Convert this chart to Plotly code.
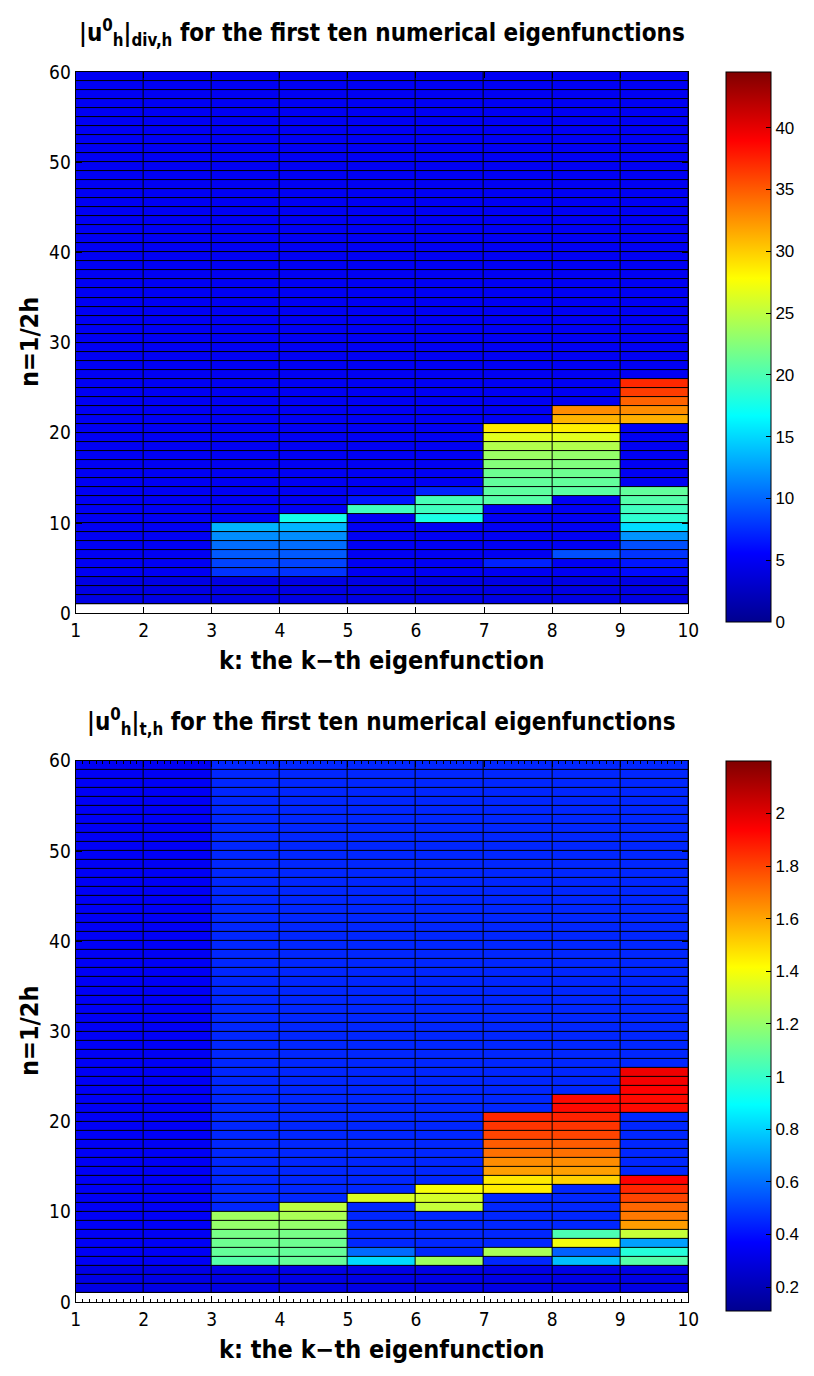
import plotly.graph_objects as go

# ---------------- data ----------------
k_edges = [1, 2, 3, 4, 5, 6, 7, 8, 9, 10]          # column edges (k)
n_edges = [1, 2, 3, 4, 5, 6, 7, 8, 9, 10, 11, 12, 13, 14, 15, 16, 17, 18, 19, 20,
           21, 22, 23, 24, 25, 26, 27, 28, 29, 30, 31, 32, 33, 34, 35, 36, 37, 38, 39, 40,
           41, 42, 43, 44, 45, 46, 47, 48, 49, 50, 51, 52, 53, 54, 55, 56, 57, 58, 59, 60]

# |u_h^0|_{div,h}: one list per column k (rows n = 1..59)
div_k1 = [4.2, 4.2, 4.2, 5.0, 5.0, 5.0, 5.0, 5.0, 5.0, 5.0,
          5.0, 5.0, 5.0, 5.0, 5.0, 5.0, 5.0, 5.0, 5.0, 5.0,
          5.0, 5.0, 5.0, 5.0, 5.0, 5.0, 5.0, 5.0, 5.0, 5.0,
          5.0, 5.0, 5.0, 5.0, 5.0, 5.0, 5.0, 5.0, 5.0, 5.0,
          5.0, 5.0, 5.0, 5.0, 5.0, 5.0, 5.0, 5.0, 5.0, 5.0,
          5.0, 5.0, 5.0, 5.0, 5.0, 5.0, 5.0, 5.0, 5.0]
div_k2 = [4.2, 4.2, 4.2, 5.0, 5.0, 5.0, 5.0, 5.0, 5.0, 5.0,
          5.0, 5.0, 5.0, 5.0, 5.0, 5.0, 5.0, 5.0, 5.0, 5.0,
          5.0, 5.0, 5.0, 5.0, 5.0, 5.0, 5.0, 5.0, 5.0, 5.0,
          5.0, 5.0, 5.0, 5.0, 5.0, 5.0, 5.0, 5.0, 5.0, 5.0,
          5.0, 5.0, 5.0, 5.0, 5.0, 5.0, 5.0, 5.0, 5.0, 5.0,
          5.0, 5.0, 5.0, 5.0, 5.0, 5.0, 5.0, 5.0, 5.0]
div_k3 = [4.2, 4.2, 4.2, 7.8, 8.5, 9.5, 10.3, 11.7, 13.4, 5.0,
          5.0, 5.0, 5.0, 5.0, 5.0, 5.0, 5.0, 5.0, 5.0, 5.0,
          5.0, 5.0, 5.0, 5.0, 5.0, 5.0, 5.0, 5.0, 5.0, 5.0,
          5.0, 5.0, 5.0, 5.0, 5.0, 5.0, 5.0, 5.0, 5.0, 5.0,
          5.0, 5.0, 5.0, 5.0, 5.0, 5.0, 5.0, 5.0, 5.0, 5.0,
          5.0, 5.0, 5.0, 5.0, 5.0, 5.0, 5.0, 5.0, 5.0]
div_k4 = [4.2, 4.2, 4.2, 7.8, 8.5, 9.5, 10.3, 11.7, 13.4, 17.5,
          5.0, 5.0, 5.0, 5.0, 5.0, 5.0, 5.0, 5.0, 5.0, 5.0,
          5.0, 5.0, 5.0, 5.0, 5.0, 5.0, 5.0, 5.0, 5.0, 5.0,
          5.0, 5.0, 5.0, 5.0, 5.0, 5.0, 5.0, 5.0, 5.0, 5.0,
          5.0, 5.0, 5.0, 5.0, 5.0, 5.0, 5.0, 5.0, 5.0, 5.0,
          5.0, 5.0, 5.0, 5.0, 5.0, 5.0, 5.0, 5.0, 5.0]
div_k5 = [4.2, 4.2, 4.2, 5.0, 5.0, 5.0, 5.0, 5.0, 5.0, 5.0,
          19.5, 6.5, 5.0, 5.0, 5.0, 5.0, 5.0, 5.0, 5.0, 5.0,
          5.0, 5.0, 5.0, 5.0, 5.0, 5.0, 5.0, 5.0, 5.0, 5.0,
          5.0, 5.0, 5.0, 5.0, 5.0, 5.0, 5.0, 5.0, 5.0, 5.0,
          5.0, 5.0, 5.0, 5.0, 5.0, 5.0, 5.0, 5.0, 5.0, 5.0,
          5.0, 5.0, 5.0, 5.0, 5.0, 5.0, 5.0, 5.0, 5.0]
div_k6 = [4.2, 4.2, 4.2, 5.0, 5.0, 5.0, 5.0, 5.0, 5.0, 17.8,
          19.5, 19.8, 7.0, 5.0, 5.0, 5.0, 5.0, 5.0, 5.0, 5.0,
          5.0, 5.0, 5.0, 5.0, 5.0, 5.0, 5.0, 5.0, 5.0, 5.0,
          5.0, 5.0, 5.0, 5.0, 5.0, 5.0, 5.0, 5.0, 5.0, 5.0,
          5.0, 5.0, 5.0, 5.0, 5.0, 5.0, 5.0, 5.0, 5.0, 5.0,
          5.0, 5.0, 5.0, 5.0, 5.0, 5.0, 5.0, 5.0, 5.0]
div_k7 = [4.2, 4.2, 4.2, 5.0, 7.0, 5.0, 5.0, 5.0, 5.0, 5.0,
          5.0, 20.5, 20.8, 21.0, 21.5, 22.5, 23.5, 24.5, 26.5, 28.7,
          5.0, 5.0, 5.0, 5.0, 5.0, 5.0, 5.0, 5.0, 5.0, 5.0,
          5.0, 5.0, 5.0, 5.0, 5.0, 5.0, 5.0, 5.0, 5.0, 5.0,
          5.0, 5.0, 5.0, 5.0, 5.0, 5.0, 5.0, 5.0, 5.0, 5.0,
          5.0, 5.0, 5.0, 5.0, 5.0, 5.0, 5.0, 5.0, 5.0]
div_k8 = [4.2, 4.2, 4.2, 5.0, 5.0, 9.0, 5.0, 5.0, 5.0, 5.0,
          5.0, 5.0, 20.7, 21.0, 21.5, 22.3, 23.2, 24.5, 26.5, 28.5,
          31.1, 32.8, 5.0, 5.0, 5.0, 5.0, 5.0, 5.0, 5.0, 5.0,
          5.0, 5.0, 5.0, 5.0, 5.0, 5.0, 5.0, 5.0, 5.0, 5.0,
          5.0, 5.0, 5.0, 5.0, 5.0, 5.0, 5.0, 5.0, 5.0, 5.0,
          5.0, 5.0, 5.0, 5.0, 5.0, 5.0, 5.0, 5.0, 5.0]
div_k9 = [4.2, 4.2, 4.2, 6.0, 6.5, 7.8, 9.0, 12.0, 15.2, 18.7,
          19.5, 20.4, 21.0, 5.0, 5.0, 5.0, 5.0, 5.0, 5.0, 5.0,
          31.3, 32.8, 34.6, 36.3, 37.2, 5.0, 5.0, 5.0, 5.0, 5.0,
          5.0, 5.0, 5.0, 5.0, 5.0, 5.0, 5.0, 5.0, 5.0, 5.0,
          5.0, 5.0, 5.0, 5.0, 5.0, 5.0, 5.0, 5.0, 5.0, 5.0,
          5.0, 5.0, 5.0, 5.0, 5.0, 5.0, 5.0, 5.0, 5.0]

# |u_h^0|_{t,h}: one list per column k (rows n = 1..59)
t_k1 = [0.31, 0.31, 0.31, 0.35, 0.35, 0.35, 0.35, 0.35, 0.35, 0.35,
        0.35, 0.35, 0.35, 0.35, 0.35, 0.35, 0.35, 0.35, 0.35, 0.35,
        0.35, 0.35, 0.35, 0.35, 0.35, 0.35, 0.35, 0.35, 0.35, 0.35,
        0.35, 0.35, 0.35, 0.35, 0.35, 0.35, 0.35, 0.35, 0.35, 0.35,
        0.35, 0.35, 0.35, 0.35, 0.35, 0.35, 0.35, 0.35, 0.35, 0.35,
        0.35, 0.35, 0.35, 0.35, 0.35, 0.35, 0.35, 0.35, 0.35]
t_k2 = [0.31, 0.31, 0.31, 0.35, 0.35, 0.35, 0.35, 0.35, 0.35, 0.35,
        0.35, 0.35, 0.35, 0.35, 0.35, 0.35, 0.35, 0.35, 0.35, 0.35,
        0.35, 0.35, 0.35, 0.35, 0.35, 0.35, 0.35, 0.35, 0.35, 0.35,
        0.35, 0.35, 0.35, 0.35, 0.35, 0.35, 0.35, 0.35, 0.35, 0.35,
        0.35, 0.35, 0.35, 0.35, 0.35, 0.35, 0.35, 0.35, 0.35, 0.35,
        0.35, 0.35, 0.35, 0.35, 0.35, 0.35, 0.35, 0.35, 0.35]
t_k3 = [0.31, 0.31, 0.31, 1.07, 1.10, 1.12, 1.14, 1.20, 1.22, 0.45,
        0.45, 0.45, 0.45, 0.45, 0.45, 0.45, 0.45, 0.45, 0.45, 0.45,
        0.45, 0.45, 0.45, 0.45, 0.45, 0.45, 0.45, 0.45, 0.45, 0.45,
        0.45, 0.45, 0.45, 0.45, 0.45, 0.45, 0.45, 0.45, 0.45, 0.45,
        0.45, 0.45, 0.45, 0.45, 0.45, 0.45, 0.45, 0.45, 0.45, 0.45,
        0.45, 0.45, 0.45, 0.45, 0.45, 0.45, 0.45, 0.45, 0.45]
t_k4 = [0.31, 0.31, 0.31, 1.10, 1.10, 1.12, 1.14, 1.20, 1.24, 1.28,
        0.45, 0.45, 0.45, 0.45, 0.45, 0.45, 0.45, 0.45, 0.45, 0.45,
        0.45, 0.45, 0.45, 0.45, 0.45, 0.45, 0.45, 0.45, 0.45, 0.45,
        0.45, 0.45, 0.45, 0.45, 0.45, 0.45, 0.45, 0.45, 0.45, 0.45,
        0.45, 0.45, 0.45, 0.45, 0.45, 0.45, 0.45, 0.45, 0.45, 0.45,
        0.45, 0.45, 0.45, 0.45, 0.45, 0.45, 0.45, 0.45, 0.45]
t_k5 = [0.31, 0.31, 0.31, 0.82, 0.59, 0.45, 0.45, 0.45, 0.45, 0.45,
        1.34, 0.45, 0.45, 0.45, 0.45, 0.45, 0.45, 0.45, 0.45, 0.45,
        0.45, 0.45, 0.45, 0.45, 0.45, 0.45, 0.45, 0.45, 0.45, 0.45,
        0.45, 0.45, 0.45, 0.45, 0.45, 0.45, 0.45, 0.45, 0.45, 0.45,
        0.45, 0.45, 0.45, 0.45, 0.45, 0.45, 0.45, 0.45, 0.45, 0.45,
        0.45, 0.45, 0.45, 0.45, 0.45, 0.45, 0.45, 0.45, 0.45]
t_k6 = [0.31, 0.31, 0.31, 1.22, 0.45, 0.45, 0.45, 0.45, 0.45, 1.30,
        1.33, 1.40, 0.45, 0.45, 0.45, 0.45, 0.45, 0.45, 0.45, 0.45,
        0.45, 0.45, 0.45, 0.45, 0.45, 0.45, 0.45, 0.45, 0.45, 0.45,
        0.45, 0.45, 0.45, 0.45, 0.45, 0.45, 0.45, 0.45, 0.45, 0.45,
        0.45, 0.45, 0.45, 0.45, 0.45, 0.45, 0.45, 0.45, 0.45, 0.45,
        0.45, 0.45, 0.45, 0.45, 0.45, 0.45, 0.45, 0.45, 0.45]
t_k7 = [0.31, 0.31, 0.31, 0.45, 1.24, 0.45, 0.45, 0.45, 0.45, 0.45,
        0.45, 1.45, 1.46, 1.61, 1.65, 1.71, 1.75, 1.80, 1.83, 1.86,
        0.45, 0.45, 0.45, 0.45, 0.45, 0.45, 0.45, 0.45, 0.45, 0.45,
        0.45, 0.45, 0.45, 0.45, 0.45, 0.45, 0.45, 0.45, 0.45, 0.45,
        0.45, 0.45, 0.45, 0.45, 0.45, 0.45, 0.45, 0.45, 0.45, 0.45,
        0.45, 0.45, 0.45, 0.45, 0.45, 0.45, 0.45, 0.45, 0.45]
t_k8 = [0.31, 0.31, 0.31, 0.76, 0.57, 1.39, 1.05, 0.45, 0.45, 0.45,
        0.45, 0.45, 1.51, 1.61, 1.65, 1.71, 1.75, 1.80, 1.83, 1.87,
        1.92, 1.92, 0.45, 0.45, 0.45, 0.45, 0.45, 0.45, 0.45, 0.45,
        0.45, 0.45, 0.45, 0.45, 0.45, 0.45, 0.45, 0.45, 0.45, 0.45,
        0.45, 0.45, 0.45, 0.45, 0.45, 0.45, 0.45, 0.45, 0.45, 0.45,
        0.45, 0.45, 0.45, 0.45, 0.45, 0.45, 0.45, 0.45, 0.45]
t_k9 = [0.31, 0.31, 0.31, 1.07, 0.97, 0.70, 1.30, 1.62, 1.69, 1.73,
        1.80, 1.86, 1.94, 0.45, 0.45, 0.45, 0.45, 0.45, 0.45, 0.45,
        1.92, 1.92, 1.94, 1.96, 1.97, 0.45, 0.45, 0.45, 0.45, 0.45,
        0.45, 0.45, 0.45, 0.45, 0.45, 0.45, 0.45, 0.45, 0.45, 0.45,
        0.45, 0.45, 0.45, 0.45, 0.45, 0.45, 0.45, 0.45, 0.45, 0.45,
        0.45, 0.45, 0.45, 0.45, 0.45, 0.45, 0.45, 0.45, 0.45]

x_ticks = [1, 2, 3, 4, 5, 6, 7, 8, 9, 10]
y_ticks = [0, 10, 20, 30, 40, 50, 60]
cb1_ticks = [0, 5, 10, 15, 20, 25, 30, 35, 40]
cb2_ticks = [0.2, 0.4, 0.6, 0.8, 1.0, 1.2, 1.4, 1.6, 1.8, 2.0]
cb2_text = ["0.2", "0.4", "0.6", "0.8", "1", "1.2", "1.4", "1.6", "1.8", "2"]
c1_range = [0, 44.5]
c2_range = [0.11, 2.2]

# ---------------- build ----------------
div_cols = [div_k1, div_k2, div_k3, div_k4, div_k5, div_k6, div_k7, div_k8, div_k9]
t_cols = [t_k1, t_k2, t_k3, t_k4, t_k5, t_k6, t_k7, t_k8, t_k9]
z_div = [list(r) for r in zip(*div_cols)]
z_t = [list(r) for r in zip(*t_cols)]

W, H = 814, 1376
NARROW = "Liberation Sans Narrow, Arial Narrow, DejaVu Sans Condensed, sans-serif"
REG = "Liberation Sans, Arial, Helvetica, sans-serif"

jet = [[0.0, "#00008f"], [0.125, "#0000ff"], [0.375, "#00ffff"],
       [0.625, "#ffff00"], [0.875, "#ff0000"], [1.0, "#800000"]]

px_x0, px_x1 = 72, 697
panels = [(62, 612), (762, 1312)]


def ydom(top, bot):
    return [(H - bot) / H, (H - top) / H]


def cbar(top, ticks, text):
    return dict(x=735 / W, xanchor="left", y=(H - top) / H, yanchor="top",
                thickness=45, thicknessmode="pixels", len=550, lenmode="pixels",
                xpad=0, ypad=0, outlinecolor="black", outlinewidth=1,
                ticks="inside", ticklen=5, tickcolor="black",
                tickvals=ticks, ticktext=text,
                tickfont=dict(family=REG, size=17, color="black"))


fig = go.Figure()
fig.add_trace(go.Heatmap(x=k_edges, y=n_edges, z=z_div, colorscale=jet,
                         zmin=c1_range[0], zmax=c1_range[1], xgap=1, ygap=1,
                         xaxis="x", yaxis="y",
                         colorbar=cbar(panels[0][0], cb1_ticks, [str(v) for v in cb1_ticks])))
fig.add_trace(go.Heatmap(x=k_edges, y=n_edges, z=z_t, colorscale=jet,
                         zmin=c2_range[0], zmax=c2_range[1], xgap=1, ygap=1,
                         xaxis="x2", yaxis="y2",
                         colorbar=cbar(panels[1][0], cb2_ticks, cb2_text)))

axis_common = dict(showline=True, linecolor="black", linewidth=1, mirror="ticks",
                   ticks="inside", ticklen=6, tickcolor="black", showgrid=False,
                   zeroline=False, tickfont=dict(family=NARROW, size=19, color="black"))

fig.update_layout(
    width=W, height=H, margin=dict(l=0, r=0, t=0, b=0),
    paper_bgcolor="white", plot_bgcolor="white", showlegend=False,
    xaxis=dict(domain=[px_x0 / W, px_x1 / W], range=[k_edges[0], k_edges[-1]],
               tickvals=x_ticks, anchor="y", **axis_common),
    yaxis=dict(domain=ydom(*panels[0]), range=[y_ticks[0], y_ticks[-1]],
               tickvals=y_ticks, anchor="x", **axis_common),
    xaxis2=dict(domain=[px_x0 / W, px_x1 / W], range=[k_edges[0], k_edges[-1]],
                tickvals=x_ticks, anchor="y2",
                minor=dict(ticks="inside", ticklen=3, dtick=0.1, tickcolor="black"),
                **axis_common),
    yaxis2=dict(domain=ydom(*panels[1]), range=[y_ticks[0], y_ticks[-1]],
                tickvals=y_ticks, anchor="x2", **axis_common),
)

# black backing behind the cells so the gaps read as cell edges
for xr, yr in (("x", "y"), ("x2", "y2")):
    fig.add_shape(type="rect", xref=xr, yref=yr, x0=k_edges[0], x1=k_edges[-1],
                  y0=n_edges[0], y1=n_edges[-1], fillcolor="black",
                  line=dict(width=0), layer="below")

titles = ["<b>|u<sup>0</sup><sub>h</sub>|<sub>div,h</sub> for the first ten numerical eigenfunctions</b>",
          "<b>|u<sup>0</sup><sub>h</sub>|<sub>t,h</sub> for the first ten numerical eigenfunctions</b>"]
cx = (px_x0 + px_x1) / 2 / W
for (top, bot), ttl in zip(panels, titles):
    fig.add_annotation(text=ttl, x=cx, y=(H - (top - 40)) / H, xref="paper", yref="paper",
                       xanchor="center", yanchor="middle", showarrow=False,
                       font=dict(family=NARROW, size=24, color="black"))
    fig.add_annotation(text="<b>k: the k\u2212th eigenfunction</b>", x=cx,
                       y=(H - (bot + 48)) / H, xref="paper", yref="paper",
                       xanchor="center", yanchor="middle", showarrow=False,
                       font=dict(family=NARROW, size=25, color="black"))
    fig.add_annotation(text="<b>n=1/2h</b>", x=25 / W, y=(H - (top + bot) / 2) / H,
                       xref="paper", yref="paper", xanchor="center", yanchor="middle",
                       textangle=-90, showarrow=False,
                       font=dict(family=NARROW, size=25, color="black"))

fig.write_html("out.html")
